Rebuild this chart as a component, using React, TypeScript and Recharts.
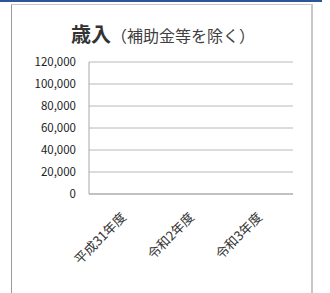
import { BarChart, Bar, XAxis, YAxis, CartesianGrid } from "recharts";

const categories = ["平成31年度", "令和2年度", "令和3年度"];
const revenue = [0, 0, 0];
const yTicks = [0, 20000, 40000, 60000, 80000, 100000, 120000];

const data = categories.map((year, i) => ({ year, revenue: revenue[i] }));

const font = "'Noto Sans CJK JP', 'Noto Sans', sans-serif";

const XTick = (props: any) => {
  const { x, y, payload } = props;
  return (
    <g transform={`translate(${x + 4},${y + 16})`}>
      <text
        transform="rotate(-45)"
        textAnchor="end"
        fontSize={13}
        fill="#333"
        fontFamily={font}
      >
        {payload.value}
      </text>
    </g>
  );
};

const App = () => {
  return (
    <div
      style={{
        position: "absolute",
        left: 0,
        top: 0,
        width: 330,
        height: 293,
        background: "#fff",
        fontFamily: font,
        overflow: "hidden",
      }}
    >
      <div style={{ position: "absolute", left: 0, top: 0, width: 322, height: 2, background: "#2f5597" }} />
      <div
        style={{
          position: "absolute",
          left: 11,
          top: 4,
          width: 299,
          height: 288,
          borderTop: "1px solid #c8c8c8",
          borderLeft: "1px solid #9a9a9a",
          borderRight: "2px solid #c8c8c8",
          borderBottom: "1px solid #e6e6e6",
        }}
      />
      <div
        style={{
          position: "absolute",
          left: 0,
          top: 20,
          width: 326,
          textAlign: "center",
          color: "#333",
          lineHeight: "28px",
        }}
      >
        <span style={{ fontSize: 20, fontWeight: 700 }}>歳入</span>
        <span style={{ fontSize: 16, color: "#404040" }}>（補助金等を除く）</span>
      </div>
      <div style={{ position: "absolute", left: 0, top: 0 }}>
        <BarChart
          width={330}
          height={293}
          data={data}
          margin={{ top: 62, right: 37, left: 29, bottom: 19 }}
        >
          <CartesianGrid vertical={false} stroke="#b8b8b8" />
          <XAxis
            dataKey="year"
            height={80}
            interval={0}
            tickLine={false}
            stroke="#a8a8a8"
            tick={<XTick />}
          />
          <YAxis
            type="number"
            width={60}
            domain={[0, 120000]}
            ticks={yTicks}
            interval={0}
            tickLine={false}
            stroke="#a8a8a8"
            tickMargin={7}
            tickFormatter={(v: number) => v.toLocaleString("en-US")}
            tick={{ fill: "#222", fontSize: 11.5, fontFamily: font }}
          />
          <Bar dataKey="revenue" fill="#4472c4" isAnimationActive={false} />
        </BarChart>
      </div>
    </div>
  );
};

export default App;
